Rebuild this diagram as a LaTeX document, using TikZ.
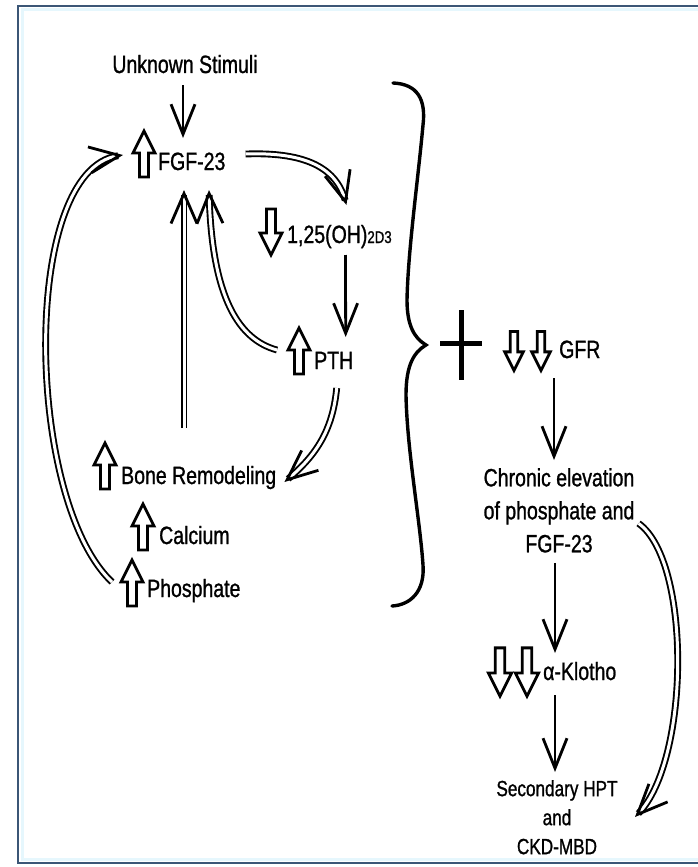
\documentclass[tikz,border=0pt]{standalone}
\usepackage{fontspec}
\setmainfont{Liberation Sans}[FakeStretch=0.78,FakeBold=1]
\usetikzlibrary{arrows.meta,calc}
\definecolor{framec}{HTML}{3B5676}
\begin{document}
\begin{tikzpicture}[x=1pt,y=-1pt,
  lbl/.style={font=\fontsize{25}{33}\selectfont, inner sep=0pt},
  arr/.style={line width=2.8pt, -{Straight Barb[length=30pt,width=24pt,line width=2.8pt]}},
  darr/.style={double, double distance=3pt, line width=1.9pt, -{Straight Barb[length=30pt,width=26pt,line width=2.8pt]}},
  brace/.style={line width=3.4pt, line cap=round},
  upblk/.pic={\draw[line width=2.8pt, line join=miter, fill=white] (0,-23) -- (11,-1) -- (4.5,-1) -- (4.5,23) -- (-4.5,23) -- (-4.5,-1) -- (-11,-1) -- cycle;},
  dnblk/.pic={\draw[line width=2.8pt, line join=miter, fill=white] (0,23) -- (11,1) -- (4.5,1) -- (4.5,-23) -- (-4.5,-23) -- (-4.5,1) -- (-11,1) -- cycle;}
]
\useasboundingbox (0,0) rectangle (698,867);
\fill[white] (0,0) rectangle (698,867);
% frame
\draw[cyan!10, line width=3pt] (700,10) -- (22,10) -- (22,859) -- (700,859);
\draw[framec, line width=2.8pt] (702,6) -- (18,6) -- (18,863) -- (702,863);

% nodes
\node[lbl, anchor=base] (stim) at (185,73) {Unknown Stimuli};
\node[lbl, anchor=base west] (fgf) at (158,170) {FGF-23};
\node[lbl, anchor=base west] (vitd) at (287,243) {1,25(OH){\fontsize{17}{20}\selectfont 2D3}};
\node[lbl, anchor=base west] (pth) at (314,369) {PTH};
\node[lbl, anchor=base west] (bone) at (121,484) {Bone Remodeling};
\node[lbl, anchor=base west] (calc) at (159,544) {Calcium};
\node[lbl, anchor=base west] (phos) at (147,597) {Phosphate};
\node[lbl, anchor=base west] (gfr) at (559,358) {GFR};
\node[lbl, anchor=north, align=center] (chronic) at (559,468) {Chronic elevation\\of phosphate and\\FGF-23};
\node[lbl, anchor=base west] (klotho) at (543,680) {α-Klotho};
\node[lbl, anchor=north, align=center, font=\fontsize{22}{29}\selectfont] (sec) at (557,780) {Secondary HPT\\and\\CKD-MBD};

% block arrows
\pic at ([shift={(-14,-16)}]fgf.base west) {upblk};
\pic at ([shift={(-16,-11)}]vitd.base west) {dnblk};
\pic at ([shift={(-15,-18)}]pth.base west) {upblk};
\pic at ([shift={(-16,-18)}]bone.base west) {upblk};
\pic at ([shift={(-16,-17)}]calc.base west) {upblk};
\pic at ([shift={(-15,-14)}]phos.base west) {upblk};
\pic[scale=0.85] at ([shift={(-45,-7)}]gfr.base west) {dnblk};
\pic[scale=0.85] at ([shift={(-18,-7)}]gfr.base west) {dnblk};
\pic[scale=1.05] at ([shift={(-43,-8)}]klotho.base west) {dnblk};
\pic[scale=1.05] at ([shift={(-16,-8)}]klotho.base west) {dnblk};

% connectors
\draw[arr] ([shift={(-2,12)}]stim.base) -- ([shift={(25,-32)}]fgf.base west);
\draw[darr] ([shift={(20,-16)}]fgf.base east) .. controls +(55,-2) and +(-11,-40) .. ([shift={(7,-38)}]vitd.base);
\draw[arr] ([shift={(6,12)}]vitd.base) -- ([shift={(12,-32)}]pth.base);
\draw[darr] ([shift={(-37,-19)}]pth.base west) .. controls +(-37,-10) and +(3,110) .. ([shift={(51,20)}]fgf.base west);
\draw[darr] ([shift={(63,-56)}]bone.base west) -- ([shift={(26,20)}]fgf.base west);
\draw[darr] ([shift={(3,19)}]pth.base) .. controls +(-4,42) and +(32,-27) .. ([shift={(8,-2)}]bone.base east);
\draw[darr] ([shift={(-35,-15)}]phos.base west) .. controls +(-87,-82) and +(-103,15) .. ([shift={(-35,-15)}]fgf.base west);
\draw[arr] ([shift={(-5,20)}]gfr.base west) -- ([shift={(-5,-8)}]chronic.north);
\draw[arr] ([shift={(-4,10)}]chronic.south) -- ([shift={(12,-27)}]klotho.base west);
\draw[arr] ([shift={(12,15)}]klotho.base west) -- ([shift={(-2,-8)}]sec.north);
\draw[darr] ([shift={(4,13)}]chronic.east) .. controls +(53,38) and +(55,-57) .. ([shift={(78,37)}]sec.north);

% brace and plus
\draw[brace] (393,83) .. controls (418,84) and (426,100) .. (423,125)
  .. controls (418,180) and (408,250) .. (407,300)
  .. controls (407,325) and (414,338) .. (426,345)
  .. controls (414,352) and (406,365) .. (406,395)
  .. controls (407,450) and (420,520) .. (423,565)
  .. controls (425,592) and (410,605) .. (392,606);
\draw[line width=5pt] (440,343) -- (482,343);
\draw[line width=5pt] (461,310) -- (461,380);
\end{tikzpicture}
\end{document}
